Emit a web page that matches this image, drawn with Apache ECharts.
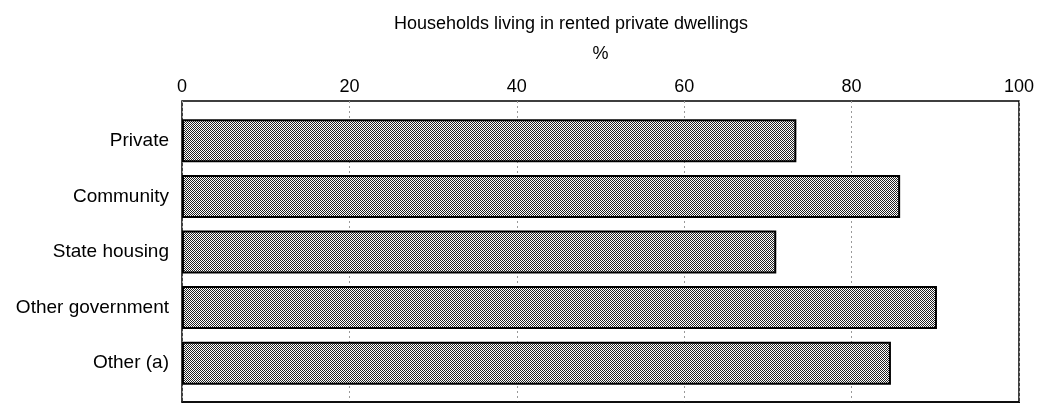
<!DOCTYPE html>
<html>
<head>
<meta charset="utf-8">
<script src="https://cdn.jsdelivr.net/npm/echarts@6/dist/echarts.min.js"></script>
<style>
  html, body { margin: 0; padding: 0; background: #fff; }
  #chart { width: 1039px; height: 403px; }
</style>
</head>
<body>
<div id="chart"></div>
<script>
const titleText = 'Households living in rented private dwellings';
const axisName = '%';
const categories = ['Private', 'Community', 'State housing', 'Other government', 'Other (a)'];
const values = [73.4, 85.8, 71.0, 90.2, 84.7];
const xTicks = [0, 20, 40, 60, 80, 100];

// stipple pattern for bar fill
const pc = document.createElement('canvas');
pc.width = 4; pc.height = 4;
const pctx = pc.getContext('2d');
pctx.fillStyle = '#ffffff';
pctx.fillRect(0, 0, 4, 4);
pctx.fillStyle = '#222222';
for (let y = 0; y < 4; y++) {
  for (let x = 0; x < 4; x++) {
    if ((x + y) % 2 === 0) pctx.fillRect(x, y, 1, 1);
  }
}

const font = '"Liberation Sans", Arial, Helvetica, sans-serif';
const chart = echarts.init(document.getElementById('chart'), null, { renderer: 'canvas' });

chart.setOption({
  backgroundColor: '#ffffff',
  animation: false,
  title: {
    text: titleText,
    left: 566,
    textAlign: 'center',
    top: 10,
    textStyle: { fontSize: 18, fontWeight: 'normal', color: '#000', fontFamily: font }
  },
  grid: [
    { left: 182, right: 20, top: 101, bottom: 1, show: true, borderColor: '#000', borderWidth: 1.5, backgroundColor: 'transparent' },
    { left: 182, right: 20, top: 113, bottom: 12 }
  ],
  xAxis: [
    {
      gridIndex: 0,
      type: 'value',
      position: 'top',
      min: xTicks[0],
      max: xTicks[xTicks.length - 1],
      interval: 20,
      name: axisName,
      nameLocation: 'middle',
      nameGap: 38,
      nameTextStyle: { fontSize: 18, color: '#000', fontFamily: font },
      axisLine: { show: true, lineStyle: { color: '#000', width: 1.5 } },
      axisTick: { show: true, inside: true, length: 5, lineStyle: { color: '#000' } },
      axisLabel: { fontSize: 18, color: '#000', fontFamily: font, margin: 5 },
      splitLine: { show: true, lineStyle: { color: '#999', width: 1, type: [2, 3] } }
    },
    { gridIndex: 1, type: 'value', min: 0, max: 100, show: false }
  ],
  yAxis: [
    { gridIndex: 0, type: 'value', show: false },
    {
      gridIndex: 1,
      type: 'category',
      inverse: true,
      data: categories,
      axisLine: { show: false },
      axisTick: { show: false },
      axisLabel: { fontSize: 19, color: '#000', fontFamily: font, margin: 13 }
    }
  ],
  series: [
    {
      type: 'bar',
      xAxisIndex: 1,
      yAxisIndex: 1,
      data: values,
      barWidth: 43,
      itemStyle: {
        color: { image: pc, repeat: 'repeat' },
        borderColor: '#000',
        borderWidth: 2
      }
    }
  ]
});
</script>
</body>
</html>
